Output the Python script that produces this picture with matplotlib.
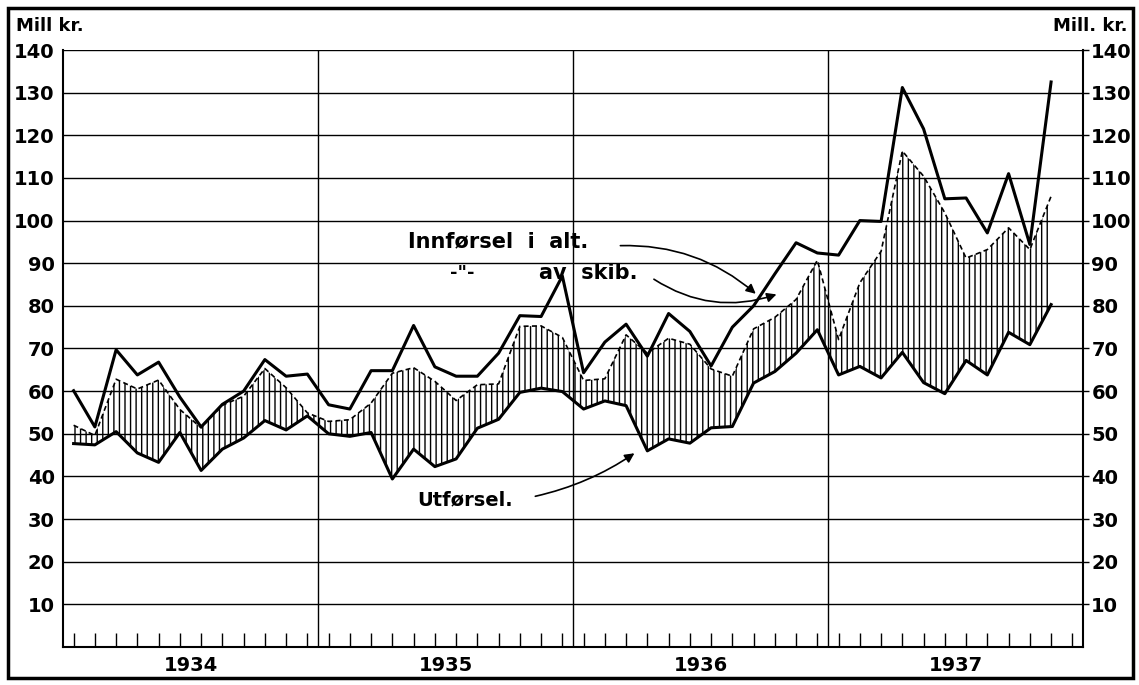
import numpy as np
import matplotlib.pyplot as plt
from matplotlib.patches import Rectangle

plt.rcParams['font.family'] = 'DejaVu Sans'
plt.rcParams['font.weight'] = 'bold'
plt.rcParams['hatch.linewidth'] = 1.0

# Monthly values, Jan 1934 - Nov 1937, mill. kr.
years = ['1934', '1935', '1936', '1937']
innforsel_alt = [60.1, 51.6, 69.7, 63.8, 66.8, 58.6, 51.6, 56.9, 60.0, 67.4, 63.5, 64.0,
                 56.8, 55.8, 64.8, 64.8, 75.4, 65.7, 63.5, 63.5, 68.9, 77.7, 77.5, 87.0,
                 64.3, 71.5, 75.7, 68.2, 78.2, 74.0, 65.9, 75.0, 80.0, 87.5, 94.8, 92.4,
                 91.9, 100.0, 99.8, 131.2, 121.5, 105.1, 105.3, 97.1, 111.0, 94.4, 132.5]
innforsel_skib = [52.0, 49.6, 62.8, 60.5, 62.6, 55.7, 51.4, 56.7, 58.8, 65.3, 60.8, 54.9,
                  52.9, 53.3, 57.2, 64.2, 65.5, 62.3, 57.8, 61.5, 61.7, 75.2, 75.3, 72.6,
                  62.5, 62.9, 73.2, 68.9, 72.4, 71.0, 65.2, 63.5, 74.6, 77.3, 81.5, 90.7,
                  72.1, 85.4, 92.8, 116.3, 110.4, 101.8, 91.2, 93.2, 98.3, 93.2, 105.7]
utforsel = [47.7, 47.4, 50.5, 45.5, 43.3, 50.3, 41.4, 46.4, 49.0, 53.1, 50.9, 54.2,
            50.0, 49.4, 50.3, 39.4, 46.4, 42.3, 44.1, 51.3, 53.4, 59.7, 60.7, 59.9,
            55.8, 57.7, 56.6, 46.0, 48.8, 47.8, 51.4, 51.7, 61.9, 64.6, 68.9, 74.4,
            63.8, 65.8, 63.1, 69.1, 62.0, 59.4, 67.2, 63.8, 73.8, 70.9, 80.3]
yticks = list(range(10, 150, 10))

months = np.arange(len(innforsel_alt))

fig = plt.figure(figsize=(11.39, 6.85), dpi=100)
ax = fig.add_axes([0.0553, 0.0555, 0.8955, 0.8715])

# hatched area between export and ship imports
ax.fill_between(months, utforsel, innforsel_skib, facecolor='none', edgecolor='black',
                hatch='|||', linewidth=0)
ax.plot(months, innforsel_skib, color='black', linestyle=(0, (3, 2)), linewidth=1.2)
ax.plot(months, innforsel_alt, color='black', linewidth=2.2)
ax.plot(months, utforsel, color='black', linewidth=2.2)

ax.set_xlim(-0.5, 47.5)
ax.set_ylim(0, 140)
for v in yticks:
    ax.axhline(v, color='black', linewidth=1.0, zorder=0)
for b in [11.5, 23.5, 35.5]:
    ax.axvline(b, color='black', linewidth=1.0, zorder=0)

ax.set_xticks(np.arange(48))
ax.set_xticklabels([])
ax.tick_params(axis='x', direction='in', length=10, width=1.0)
ax.set_yticks(yticks)
ax.set_yticklabels([str(v) for v in yticks], fontsize=14)
ax.tick_params(axis='y', left=False, right=True, labelright=True, length=4, width=1, pad=2)
ax.spines['top'].set_visible(False)
for s in ['left', 'right', 'bottom']:
    ax.spines[s].set_linewidth(1.5)

for i, yr in enumerate(years):
    ax.text(5.5 + 12 * i, -4.3, yr, ha='center', va='center', fontsize=14, clip_on=False)

fig.text(0.014, 0.962, 'Mill kr.', fontsize=13, ha='left', va='center')
fig.text(0.990, 0.962, 'Mill. kr.', fontsize=13, ha='right', va='center')

# labels and arrows
ax.text(20.0, 95.1, 'Innførsel  i  alt.', ha='center', va='center', fontsize=15)
ax.text(18.3, 87.8, '-"-', ha='center', va='center', fontsize=13)
ax.text(24.2, 87.8, 'av  skib.', ha='center', va='center', fontsize=15)
ax.text(18.4, 34.5, 'Utførsel.', ha='center', va='center', fontsize=14)

arrow = dict(arrowstyle='-|>', color='black', linewidth=1.2, mutation_scale=14)
ax.annotate('', xy=(32.2, 82.4), xytext=(25.6, 94.1),
            arrowprops=dict(arrow, connectionstyle='arc3,rad=-0.2'))
ax.annotate('', xy=(33.2, 82.9), xytext=(27.2, 86.6),
            arrowprops=dict(arrow, connectionstyle='arc3,rad=0.25'))
ax.annotate('', xy=(26.5, 45.8), xytext=(21.6, 35.2),
            arrowprops=dict(arrow, connectionstyle='arc3,rad=0.1'))

# outer frame
fig.patches.append(Rectangle((0.007, 0.010), 0.988, 0.978, transform=fig.transFigure,
                             fill=False, edgecolor='black', linewidth=2.5))

plt.savefig('out.png', dpi=100)
